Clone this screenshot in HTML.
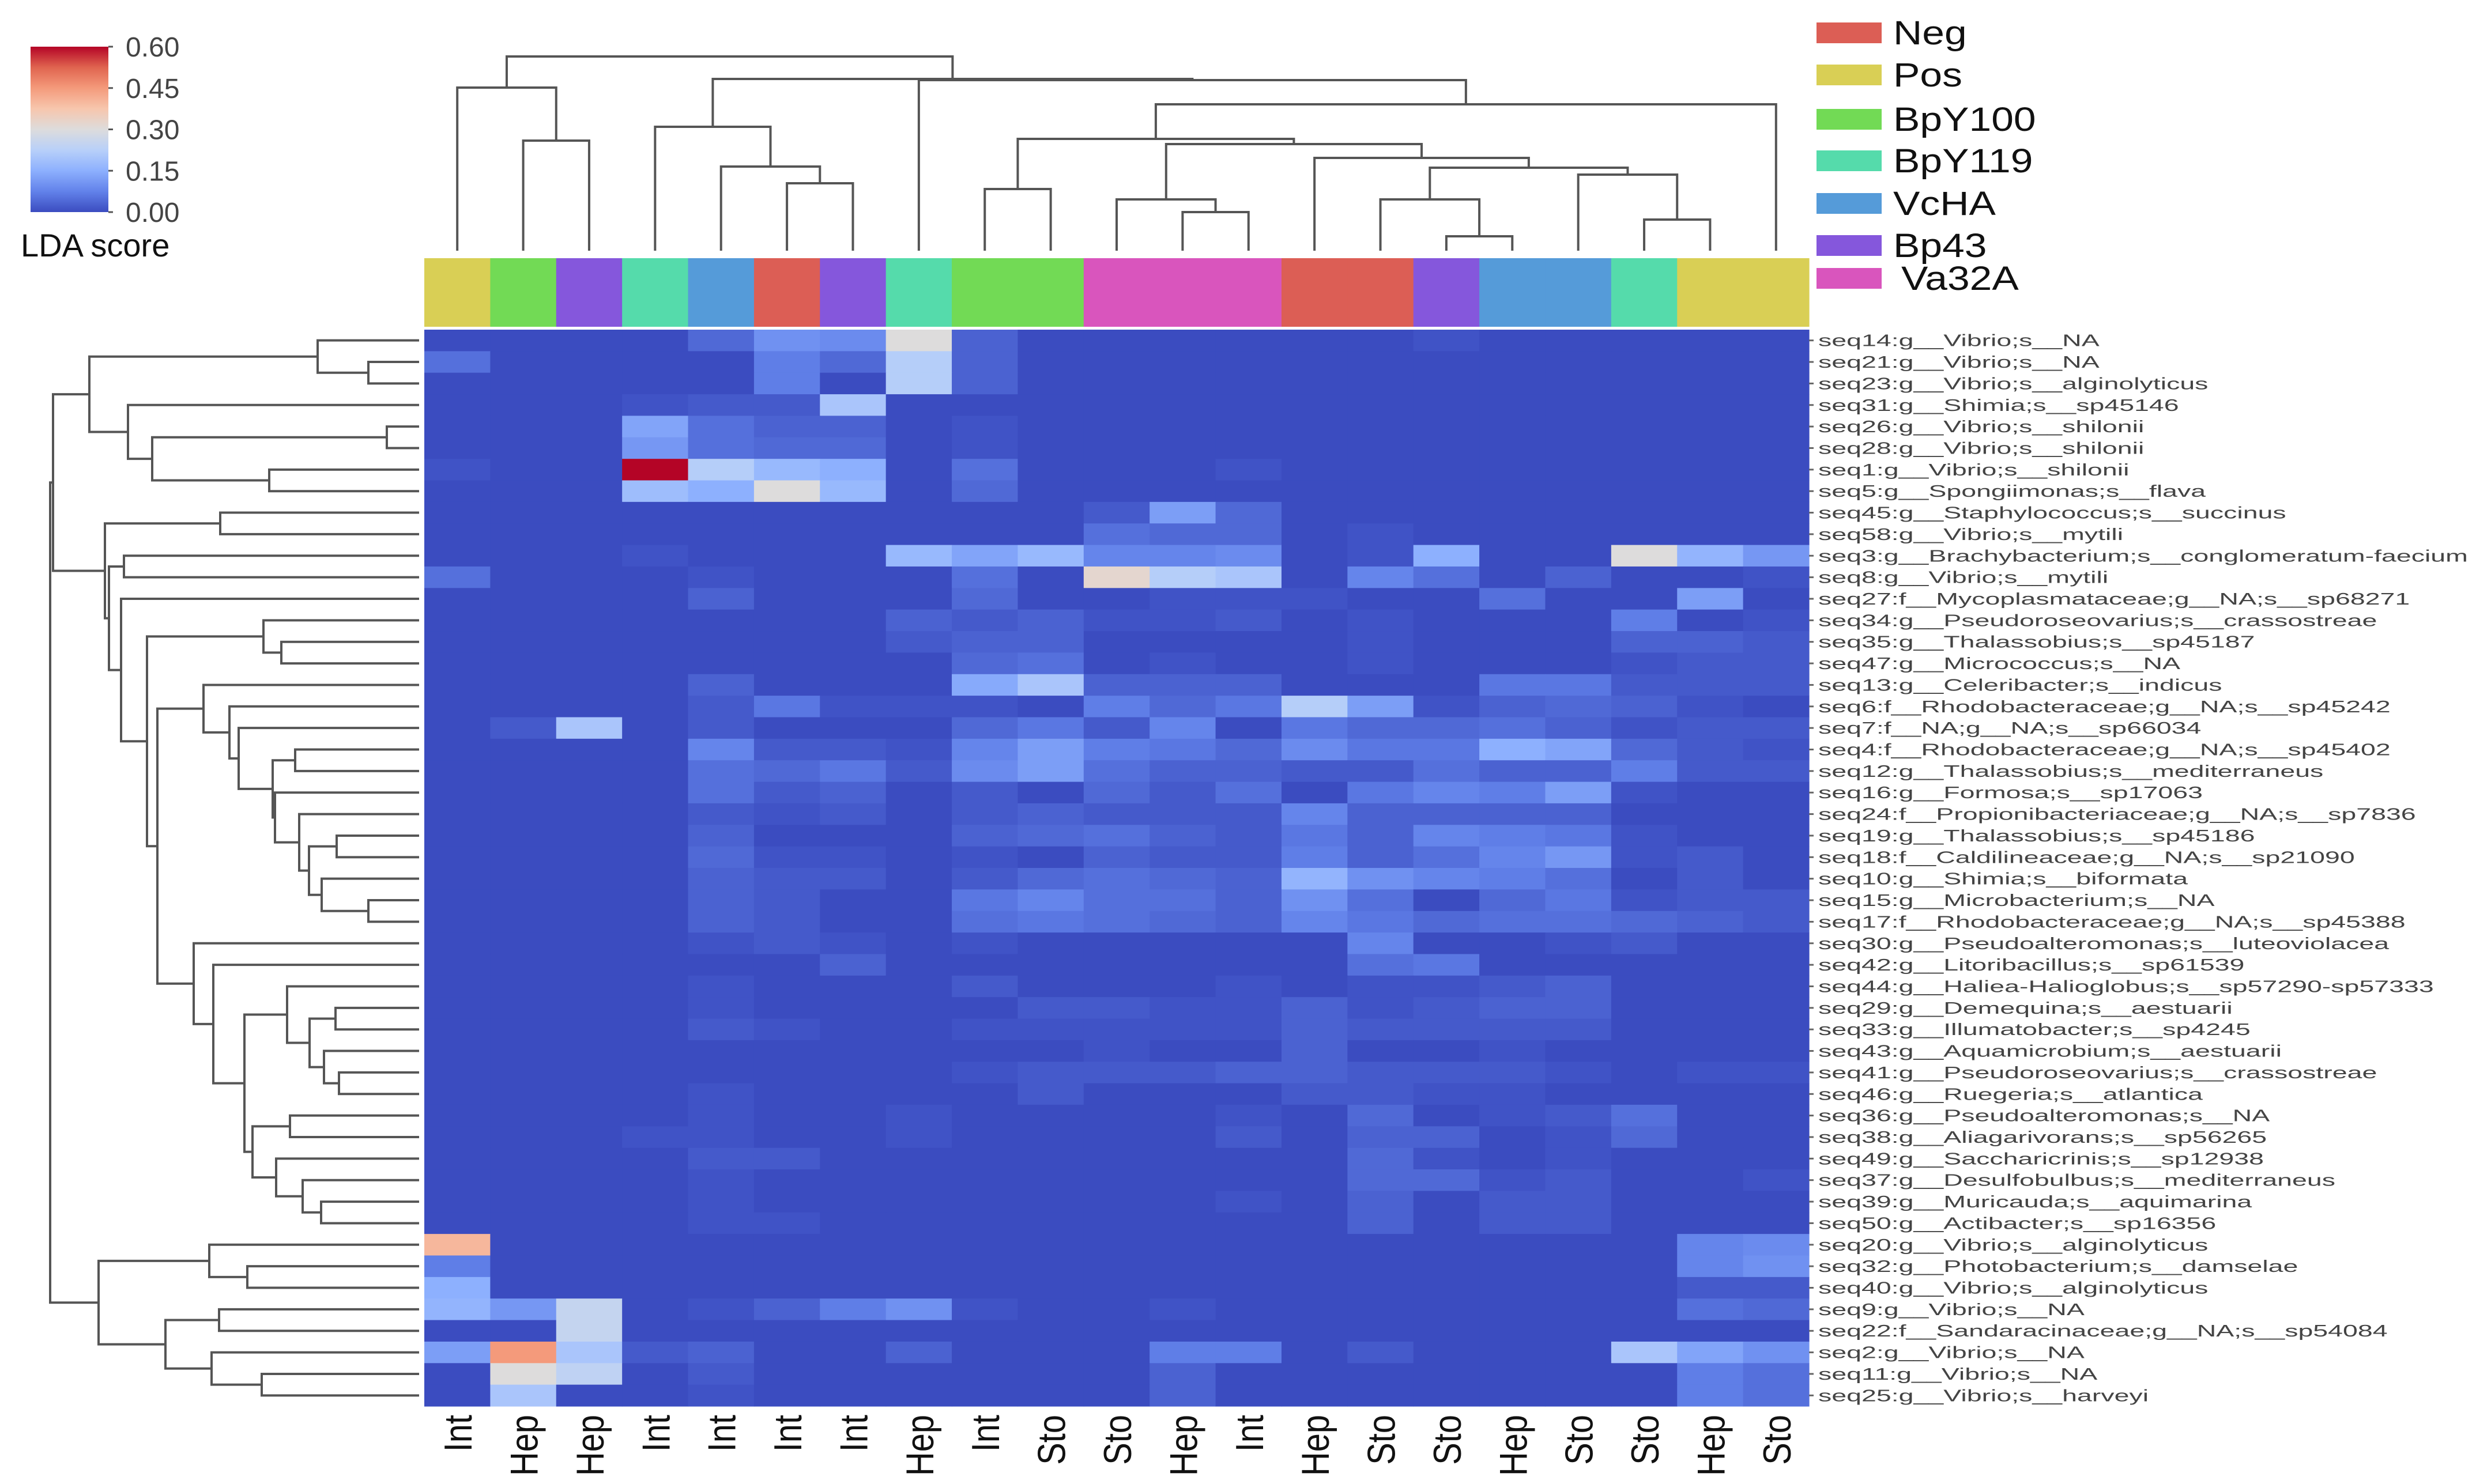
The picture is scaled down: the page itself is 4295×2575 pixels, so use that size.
<!DOCTYPE html>
<html><head><meta charset="utf-8"><style>
html,body{margin:0;padding:0;background:#fff;}
svg{display:block;font-family:"Liberation Sans",sans-serif;}
</style></head><body>
<svg id="chart" width="4295" height="2575" viewBox="0 0 4295 2575" xmlns="http://www.w3.org/2000/svg">
<defs>
<linearGradient id="cw" x1="0" y1="1" x2="0" y2="0">
<stop offset="0" stop-color="#3b4cc0"/><stop offset="0.125" stop-color="#6282ea"/><stop offset="0.25" stop-color="#8db0fe"/><stop offset="0.375" stop-color="#b8d0f9"/><stop offset="0.5" stop-color="#dddcdc"/><stop offset="0.625" stop-color="#f7c6ad"/><stop offset="0.75" stop-color="#f49a7b"/><stop offset="0.875" stop-color="#e0644f"/><stop offset="1" stop-color="#b40426"/>
</linearGradient>
</defs>
<g id="colorbar">
<rect x="53" y="81" width="135" height="287" fill="url(#cw)"/>
</g>
<text x="36" y="445" font-size="56" fill="#111">LDA score</text>
<g id="legend"></g>
<g id="topdendro"></g>
<g id="leftdendro"></g>
<g id="band"></g>
<g id="heat"></g>
<g id="rowlabels"></g>
<g id="collabels"></g>
<g id="cbticks"></g>
</svg>
<script>
const cbTicks = [0.00, 0.15, 0.30, 0.45, 0.60];
const vmax = 0.6;
const colLabels = ["Int","Hep","Hep","Int","Int","Int","Int","Hep","Int","Sto","Sto","Hep","Int","Hep","Sto","Sto","Hep","Sto","Sto","Hep","Sto"];
const colGroups = ["Pos","BpY100","Bp43","BpY119","VcHA","Neg","Bp43","BpY119","BpY100","BpY100","Va32A","Va32A","Va32A","Neg","Neg","Bp43","VcHA","VcHA","BpY119","Pos","Pos"];
const groupNames = ["Neg","Pos","BpY100","BpY119","VcHA","Bp43","Va32A"];
const groupColors = ["#dc5e55","#d9cf55","#72da55","#55dbab","#559bd9","#8557dc","#d955bd"];
const rowLabels = ["seq14:g__Vibrio;s__NA","seq21:g__Vibrio;s__NA","seq23:g__Vibrio;s__alginolyticus","seq31:g__Shimia;s__sp45146","seq26:g__Vibrio;s__shilonii","seq28:g__Vibrio;s__shilonii","seq1:g__Vibrio;s__shilonii","seq5:g__Spongiimonas;s__flava","seq45:g__Staphylococcus;s__succinus","seq58:g__Vibrio;s__mytili","seq3:g__Brachybacterium;s__conglomeratum-faecium","seq8:g__Vibrio;s__mytili","seq27:f__Mycoplasmataceae;g__NA;s__sp68271","seq34:g__Pseudoroseovarius;s__crassostreae","seq35:g__Thalassobius;s__sp45187","seq47:g__Micrococcus;s__NA","seq13:g__Celeribacter;s__indicus","seq6:f__Rhodobacteraceae;g__NA;s__sp45242","seq7:f__NA;g__NA;s__sp66034","seq4:f__Rhodobacteraceae;g__NA;s__sp45402","seq12:g__Thalassobius;s__mediterraneus","seq16:g__Formosa;s__sp17063","seq24:f__Propionibacteriaceae;g__NA;s__sp7836","seq19:g__Thalassobius;s__sp45186","seq18:f__Caldilineaceae;g__NA;s__sp21090","seq10:g__Shimia;s__biformata","seq15:g__Microbacterium;s__NA","seq17:f__Rhodobacteraceae;g__NA;s__sp45388","seq30:g__Pseudoalteromonas;s__luteoviolacea","seq42:g__Litoribacillus;s__sp61539","seq44:g__Haliea-Halioglobus;s__sp57290-sp57333","seq29:g__Demequina;s__aestuarii","seq33:g__Illumatobacter;s__sp4245","seq43:g__Aquamicrobium;s__aestuarii","seq41:g__Pseudoroseovarius;s__crassostreae","seq46:g__Ruegeria;s__atlantica","seq36:g__Pseudoalteromonas;s__NA","seq38:g__Aliagarivorans;s__sp56265","seq49:g__Saccharicrinis;s__sp12938","seq37:g__Desulfobulbus;s__mediterraneus","seq39:g__Muricauda;s__aquimarina","seq50:g__Actibacter;s__sp16356","seq20:g__Vibrio;s__alginolyticus","seq32:g__Photobacterium;s__damselae","seq40:g__Vibrio;s__alginolyticus","seq9:g__Vibrio;s__NA","seq22:f__Sandaracinaceae;g__NA;s__sp54084","seq2:g__Vibrio;s__NA","seq11:g__Vibrio;s__NA","seq25:g__Vibrio;s__harveyi"];
const values = [
[0,0,0,0,.04,.1,.09,.3,.03,0,0,0,0,0,0,.01,0,0,0,0,0],
[.05,0,0,0,0,.07,.04,.22,.03,0,0,0,0,0,0,0,0,0,0,0,0],
[0,0,0,0,0,.07,0,.22,.03,0,0,0,0,0,0,0,0,0,0,0,0],
[0,0,0,.01,.02,.02,.2,0,0,0,0,0,0,0,0,0,0,0,0,0,0],
[0,0,0,.13,.05,.03,.03,0,.01,0,0,0,0,0,0,0,0,0,0,0,0],
[0,0,0,.11,.05,.04,.04,0,.01,0,0,0,0,0,0,0,0,0,0,0,0],
[.01,0,0,.6,.22,.17,.15,0,.05,0,0,0,.01,0,0,0,0,0,0,0,0],
[0,0,0,.18,.15,.3,.17,0,.04,0,0,0,0,0,0,0,0,0,0,0,0],
[0,0,0,0,0,0,0,0,0,0,.02,.12,.04,0,0,0,0,0,0,0,0],
[0,0,0,0,0,0,0,0,0,0,.05,.04,.04,0,.01,0,0,0,0,0,0],
[0,0,0,.01,0,0,0,.17,.13,.17,.08,.08,.09,0,.01,.15,0,0,.3,.16,.11],
[.05,0,0,0,.01,0,0,0,.05,0,.32,.22,.2,0,.08,.05,0,.03,0,0,.01],
[0,0,0,0,.03,0,0,0,.04,0,0,.01,.01,.01,0,0,.05,0,0,.12,0],
[0,0,0,0,0,0,0,.03,.02,.03,.01,.01,.02,0,.01,0,0,0,.07,0,.01],
[0,0,0,0,0,0,0,.02,.03,.03,0,0,0,0,.01,0,0,0,.03,.03,.02],
[0,0,0,0,0,0,0,0,.04,.05,0,.01,0,0,.01,0,0,0,.01,.02,.02],
[0,0,0,0,.03,0,0,0,.14,.2,.03,.03,.03,0,0,0,.06,.06,.02,.02,.02],
[0,0,0,0,.02,.06,.01,.01,.01,0,.07,.04,.06,.22,.12,.01,.03,.04,.03,.01,0],
[0,.02,.2,0,.02,0,0,0,.04,.06,.02,.08,0,.06,.04,.04,.05,.03,.01,.02,.02],
[0,0,0,0,.08,.02,.02,.01,.08,.12,.07,.06,.04,.09,.06,.06,.15,.13,.04,.02,.01],
[0,0,0,0,.05,.04,.06,.02,.09,.12,.05,.03,.03,.02,.02,.05,.03,.03,.07,.02,.02],
[0,0,0,0,.05,.02,.03,0,.02,0,.04,.02,.05,0,.06,.08,.07,.12,.01,0,0],
[0,0,0,0,.02,.01,.02,0,.02,.03,.02,.02,.02,.08,.03,.03,.03,.03,0,0,0],
[0,0,0,0,.03,0,0,0,.03,.04,.05,.03,.02,.06,.03,.08,.07,.06,.01,0,0],
[0,0,0,0,.04,.01,.01,0,.01,0,.03,.02,.02,.07,.03,.05,.08,.11,.01,.02,0],
[0,0,0,0,.03,.02,.02,0,.02,.04,.05,.04,.03,.16,.1,.08,.07,.05,0,.02,0],
[0,0,0,0,.03,.02,0,0,.06,.08,.05,.05,.03,.1,.05,0,.04,.06,.01,.02,.02],
[0,0,0,0,.03,.02,0,0,.05,.06,.05,.04,.03,.08,.06,.04,.05,.05,.04,.03,.02],
[0,0,0,0,.01,.02,.01,0,.01,0,0,0,0,0,.08,0,0,.01,.02,0,0],
[0,0,0,0,0,0,.03,0,0,0,0,0,0,0,.05,.06,0,0,0,0,0],
[0,0,0,0,.01,0,0,0,.02,0,0,0,.01,0,.01,.01,.02,.03,0,0,0],
[0,0,0,0,.01,0,0,0,0,.02,.02,.01,.01,.03,.01,.02,.03,.03,0,0,0],
[0,0,0,0,.02,.01,0,0,.01,.01,.01,.01,.01,.03,.02,.02,.02,.02,0,0,0],
[0,0,0,0,0,0,0,0,0,0,.01,0,0,.03,0,0,.01,0,0,0,0],
[0,0,0,0,0,0,0,0,.01,.02,.02,.02,.03,.03,.02,.02,.02,.01,0,.01,.01],
[0,0,0,0,.01,0,0,0,0,.02,0,0,0,.02,.02,.01,.01,0,0,0,0],
[0,0,0,0,.01,0,0,.01,0,0,0,0,.01,0,.04,0,.01,.02,.05,0,0],
[0,0,0,.01,.01,0,0,.01,0,0,0,0,.02,0,.03,.03,0,.01,.04,0,0],
[0,0,0,0,.02,.02,0,0,0,0,0,0,0,0,.04,.01,0,.01,0,0,0],
[0,0,0,0,.01,0,0,0,0,0,0,0,0,0,.04,.04,.01,.02,0,0,.01],
[0,0,0,0,.01,0,0,0,0,0,0,0,.01,0,.03,0,.02,.02,0,0,0],
[0,0,0,0,.01,.01,0,0,0,0,0,0,0,0,.03,0,.02,.02,0,0,0],
[.4,0,0,0,0,0,0,0,0,0,0,0,0,0,0,0,0,0,0,.08,.09],
[.07,0,0,0,0,0,0,0,0,0,0,0,0,0,0,0,0,0,0,.08,.1],
[.15,0,0,0,0,0,0,0,0,0,0,0,0,0,0,0,0,0,0,.02,.02],
[.16,.11,.25,0,.01,.03,.07,.1,.01,0,0,.01,0,0,0,0,0,0,0,.05,.04],
[0,0,.25,0,0,0,0,0,0,0,0,0,0,0,0,0,0,0,0,0,0],
[.12,.45,.2,.02,.03,0,0,.03,0,0,0,.07,.07,0,.02,0,0,0,.2,.13,.1],
[0,.3,.24,0,.02,0,0,0,0,0,0,.03,0,0,0,0,0,0,0,.07,.05],
[0,.2,0,0,.01,0,0,0,0,0,0,.03,0,0,0,0,0,0,0,.07,.05]
];
// linkage: [childA, childB, distance]
const rowLinkage = [[1,2,88],[0,50,176],[4,5,56],[6,7,260],[52,53,463],[3,54,505],[51,55,572],[8,9,345],[10,11,512],[14,15,239],[13,59,270],[19,20,215],[23,24,143],[26,27,88],[25,63,169],[62,64,191],[22,65,208],[21,66,250],[61,67,254],[18,68,313],[17,69,329],[16,70,374],[31,32,145],[34,35,139],[33,73,165],[72,74,190],[30,75,229],[40,41,170],[39,77,202],[38,78,248],[36,37,224],[80,79,289],[76,81,303],[29,82,357],[28,83,391],[71,84,454],[60,85,472],[12,86,517],[58,87,538],[57,88,545],[43,44,298],[42,90,364],[45,46,347],[48,49,273],[47,93,360],[92,94,440],[91,95,556],[56,89,635],[97,96,640]];
const colLinkage = [[1,2,191],[0,21,283],[5,6,117],[4,23,146],[3,24,215],[8,9,107],[11,12,67],[10,27,89],[15,16,25],[14,29,89],[18,19,54],[17,31,132],[30,32,144],[13,33,161],[28,34,185],[26,35,194],[36,20,254],[7,37,296],[25,38,298],[22,39,337]];

const NS="http://www.w3.org/2000/svg";
function mk(tag, attrs, parent){const e=document.createElementNS(NS,tag);for(const k in attrs)e.setAttribute(k,attrs[k]);parent.appendChild(e);return e;}
const HX0=736, HX1=3138, HY0=572, HY1=2440;
const nR=rowLabels.length, nC=colLabels.length;
const cw=(HX1-HX0)/nC, rh=(HY1-HY0)/nR;
const xCol=i=>HX0+cw*(i+0.5);
const yRow=i=>HY0+rh*(i+0.5);
const stops=[[59,76,192],[98,130,234],[141,176,254],[184,208,249],[221,220,220],[247,198,173],[244,154,123],[224,100,79],[180,4,38]];
function cmap(v){let t=Math.max(0,Math.min(1,v/vmax))*(stops.length-1);const i=Math.min(stops.length-2,Math.floor(t));const f=t-i;const a=stops[i],b=stops[i+1];return `rgb(${Math.round(a[0]+(b[0]-a[0])*f)},${Math.round(a[1]+(b[1]-a[1])*f)},${Math.round(a[2]+(b[2]-a[2])*f)})`;}
const gColor=g=>groupColors[groupNames.indexOf(g)];

// heatmap
const heat=document.getElementById('heat');
for(let r=0;r<nR;r++)for(let c=0;c<nC;c++){
  const el=mk('rect',{x:HX0+c*cw,y:HY0+r*rh,width:cw+0.6,height:rh+0.6,fill:cmap(values[r][c])},heat);
  
  
}
// group band
const band=document.getElementById('band');
for(let c=0;c<nC;c++){
  const el=mk('rect',{x:HX0+c*cw,y:448,width:cw+0.6,height:119,fill:gColor(colGroups[c])},band);
  
  
}
// column labels
const cl=document.getElementById('collabels');
for(let c=0;c<nC;c++){
  const el=mk('text',{transform:`translate(${xCol(c)+25},2455) rotate(-90) scale(0.85,1)`,'text-anchor':'end','font-size':68,fill:'#111'},cl);
  el.textContent=colLabels[c];
  
  
}
// row labels
const rl=document.getElementById('rowlabels');
const rowEls=[];
for(let r=0;r<nR;r++){
  const t=mk('line',{x1:HX1,x2:HX1+8,y1:yRow(r),y2:yRow(r),stroke:'#666','stroke-width':3},rl);
  
  
  const el=mk('text',{x:0,y:0,'font-size':29,fill:'#444'},rl);
  el.textContent=rowLabels[r];
  
  
  rowEls.push(el);
}
let k=1.5;
try{const w=rowEls[10].getComputedTextLength();if(w>0)k=1127/w;}catch(e){}
rowEls.forEach((el,r)=>el.setAttribute('transform',`translate(3154,${yRow(r)+10}) scale(${k},1)`));

// colorbar ticks
const cb=document.getElementById('cbticks');
cbTicks.forEach(v=>{
  const y=368-v/vmax*287;
  const ln=mk('line',{x1:188,x2:196,y1:y,y2:y,stroke:'#555','stroke-width':3},cb);
  
  
  const el=mk('text',{x:218,y:y+17,'font-size':48,fill:'#444'},cb);
  el.textContent=v.toFixed(2);
  
  
});

// legend
const lg=document.getElementById('legend');
const legendTops=[39,112,189,261,335,408,465];
groupNames.forEach((g,i)=>{
  const y=legendTops[i];
  const p=mk('rect',{x:3151,y:y,width:113,height:36,fill:groupColors[i]},lg);
  
  
  const t=mk('text',{transform:`translate(${i===6?3298:3284},${y+38}) scale(1.2,1)`,'font-size':58,fill:'#111'},lg);
  t.textContent=g;
  
  
});

// dendrograms
function drawTree(link,nLeaf,leafPos,toPix,g,horizontal){
  const pos=[],hgt=[];
  for(let i=0;i<nLeaf;i++){pos.push(leafPos(i));hgt.push(0);}
  link.forEach(([a,b,d])=>{
    const pa=pos[a],pb=pos[b],ha=hgt[a],hb=hgt[b];
    let dstr;
    if(horizontal){dstr=`M${toPix(ha)},${pa}H${toPix(d)}V${pb}H${toPix(hb)}`;}
    else{dstr=`M${pa},${toPix(ha)}V${toPix(d)}H${pb}V${toPix(hb)}`;}
    const el=mk('path',{d:dstr,fill:'none',stroke:'#555','stroke-width':4},g);
    
    
    pos.push((pa+pb)/2);hgt.push(d);
  });
}
drawTree(rowLinkage,nR,yRow,d=>727-d,document.getElementById('leftdendro'),true);
drawTree(colLinkage,nC,xCol,d=>435-d,document.getElementById('topdendro'),false);
</script>
</body></html>
